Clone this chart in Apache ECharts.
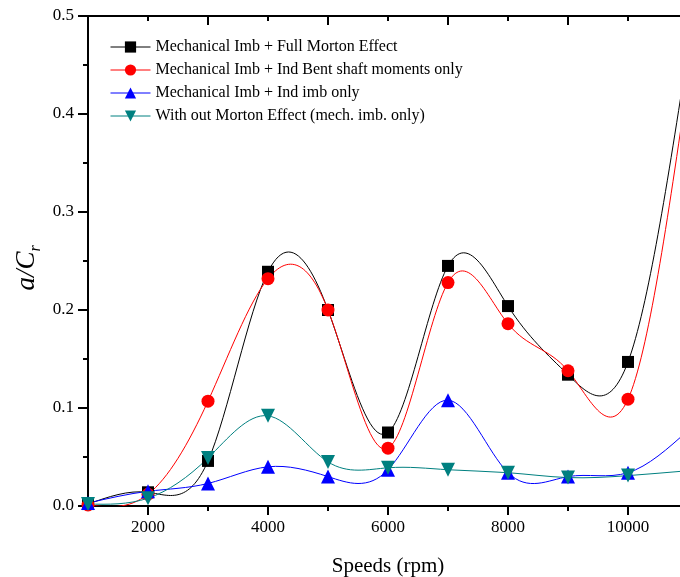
<!DOCTYPE html>
<html>
<head>
<meta charset="utf-8">
<script src="https://cdn.jsdelivr.net/npm/echarts@6/dist/echarts.min.js"></script>
<style>
html,body{margin:0;padding:0;background:#fff;}
#chart{width:680px;height:577px;}
</style>
</head>
<body>
<div id="chart"></div>
<script>
var speeds = [1000, 2000, 3000, 4000, 5000, 6000, 7000, 8000, 9000, 10000, 11000];
var fullMorton = [0.002, 0.014, 0.046, 0.239, 0.200, 0.075, 0.245, 0.204, 0.134, 0.147, 0.465];
var bentShaft  = [0.001, 0.012, 0.107, 0.232, 0.200, 0.059, 0.228, 0.186, 0.138, 0.109, 0.435];
var indImb     = [0.003, 0.015, 0.023, 0.040, 0.030, 0.037, 0.108, 0.034, 0.030, 0.034, 0.077];
var noMorton   = [0.002, 0.008, 0.049, 0.092, 0.045, 0.039, 0.037, 0.034, 0.029, 0.031, 0.036];
var seriesNames = [
  'Mechanical Imb + Full Morton Effect',
  'Mechanical Imb + Ind Bent shaft moments only',
  'Mechanical Imb + Ind imb only',
  'With out Morton Effect (mech. imb. only)'
];
var bottomMajor = [2000, 4000, 6000, 8000, 10000];
var bottomMinor = [1000, 3000, 5000, 7000, 9000, 11000];

var FONT = "'Liberation Serif', 'Times New Roman', serif";
function pairs(ys){ return speeds.map(function(x,i){ return [x, ys[i]]; }); }

// natural cubic spline slopes (the "spline" connection style of the original plot)
function splineSlopes(xs, ys){
  var n = xs.length, h = [], i;
  for (i = 0; i < n - 1; i++) h.push(xs[i+1] - xs[i]);
  var a = [], b = [], c = [], d = [];
  for (i = 0; i < n; i++){
    if (i === 0){ a.push(0); b.push(2/h[0]); c.push(1/h[0]); d.push(3*(ys[1]-ys[0])/(h[0]*h[0])); }
    else if (i === n-1){ a.push(1/h[n-2]); b.push(2/h[n-2]); c.push(0); d.push(3*(ys[n-1]-ys[n-2])/(h[n-2]*h[n-2])); }
    else {
      a.push(1/h[i-1]); b.push(2/h[i-1] + 2/h[i]); c.push(1/h[i]);
      d.push(3*((ys[i]-ys[i-1])/(h[i-1]*h[i-1]) + (ys[i+1]-ys[i])/(h[i]*h[i])));
    }
  }
  for (i = 1; i < n; i++){
    var w = a[i] / b[i-1];
    b[i] -= w * c[i-1];
    d[i] -= w * d[i-1];
  }
  var m = new Array(n);
  m[n-1] = d[n-1] / b[n-1];
  for (i = n - 2; i >= 0; i--) m[i] = (d[i] - c[i] * m[i+1]) / b[i];
  return m;
}

var chart = echarts.init(document.getElementById('chart'), null, {renderer:'canvas'});

function curve(name, ys, color){
  var m = splineSlopes(speeds, ys);
  return {
    name: name + ' (spline)', type: 'custom', clip: true, z: 2,
    data: pairs(ys),
    silent: true,
    renderItem: function(params, api){
      var i = params.dataIndex;
      if (i >= speeds.length - 1) return null;
      var x0 = speeds[i], x1 = speeds[i+1], h = x1 - x0;
      var p0 = api.coord([x0, ys[i]]);
      var p1 = api.coord([x1, ys[i+1]]);
      var c0 = api.coord([x0 + h/3, ys[i] + m[i]*h/3]);
      var c1 = api.coord([x1 - h/3, ys[i+1] - m[i+1]*h/3]);
      return {
        type: 'bezierCurve',
        shape: {x1: p0[0], y1: p0[1], x2: p1[0], y2: p1[1], cpx1: c0[0], cpy1: c0[1], cpx2: c1[0], cpy2: c1[1]},
        style: {stroke: color, fill: 'none', lineWidth: 1}
      };
    }
  };
}
function marks(name, ys, color, symbol, size){
  return {
    name: name, type: 'line', data: pairs(ys), z: 3,
    symbol: symbol, symbolSize: size, showAllSymbol: true,
    lineStyle: {color: color, width: 1, opacity: 0},
    itemStyle: {color: color},
    emphasis: {disabled: true}
  };
}
var invTri = 'path://M0,0 L10,0 L5,9 Z';
var option = {
  animation: false,
  backgroundColor: '#fff',
  grid: {left: 88, top: 16, width: 600, bottom: 71, containLabel: false, outerBoundsMode: 'none'},
  legend: {
    orient: 'vertical', left: 110, top: 39, padding: 0,
    itemWidth: 40, itemHeight: 14, itemGap: 7,
    lineStyle: {width: 1, opacity: 1},
    textStyle: {fontFamily: FONT, fontSize: 16, color: '#000'},
    data: seriesNames
  },
  xAxis: [
    {
      type: 'value', position: 'bottom', min: 1000, max: 11000,
      name: 'Speeds (rpm)', nameLocation: 'middle', nameGap: 50,
      nameTextStyle: {fontFamily: FONT, fontSize: 21, color: '#000'},
      axisLine: {show: true, onZero: false, lineStyle: {color: '#000', width: 2}},
      axisTick: {show: true, inside: false, length: 9, customValues: bottomMajor, lineStyle: {color: '#000', width: 2}},
      axisLabel: {customValues: bottomMajor, fontFamily: FONT, fontSize: 17, color: '#000', margin: 13,
        formatter: function(v){ return String(v); }},
      splitLine: {show: false}
    },
    {
      type: 'value', position: 'bottom', min: 1000, max: 11000,
      axisLine: {show: false},
      axisTick: {show: true, inside: false, length: 5, customValues: bottomMinor, lineStyle: {color: '#000', width: 2}},
      axisLabel: {show: false},
      splitLine: {show: false}
    },
    {
      type: 'value', position: 'top', min: 1000, max: 11000,
      axisLine: {show: true, onZero: false, lineStyle: {color: '#000', width: 2}},
      axisTick: {show: true, inside: true, length: 9, customValues: bottomMinor, lineStyle: {color: '#000', width: 2}},
      axisLabel: {show: false},
      splitLine: {show: false}
    },
    {
      type: 'value', position: 'top', min: 1000, max: 11000,
      axisLine: {show: false},
      axisTick: {show: true, inside: true, length: 5, customValues: bottomMajor, lineStyle: {color: '#000', width: 2}},
      axisLabel: {show: false},
      splitLine: {show: false}
    }
  ],
  yAxis: {
    type: 'value', min: 0, max: 0.5, interval: 0.1,
    axisLine: {show: true, onZero: false, lineStyle: {color: '#000', width: 2}},
    axisTick: {show: true, inside: false, length: 10, lineStyle: {color: '#000', width: 2}},
    minorTick: {show: true, splitNumber: 2, length: 5, lineStyle: {color: '#000', width: 2}},
    axisLabel: {fontFamily: FONT, fontSize: 17, color: '#000', margin: 14,
      formatter: function(v){ return v.toFixed(1); }},
    splitLine: {show: false}
  },
  graphic: [{
    type: 'text', x: 30, y: 268, rotation: Math.PI/2,
    style: {
      text: '{m|a/C}{s|r}', textAlign: 'center', textVerticalAlign: 'middle',
      rich: {
        m: {fontFamily: FONT, fontStyle: 'italic', fontSize: 27, lineHeight: 27, padding: [0,0,7,0], fill: '#000'},
        s: {fontFamily: FONT, fontStyle: 'italic', fontSize: 16, lineHeight: 16, verticalAlign: 'bottom', fill: '#000'}
      }
    }
  }],
  series: [
    curve(seriesNames[0], fullMorton, '#000000'),
    curve(seriesNames[1], bentShaft, '#ff0000'),
    curve(seriesNames[2], indImb, '#0000ff'),
    curve(seriesNames[3], noMorton, '#008080'),
    marks(seriesNames[0], fullMorton, '#000000', 'rect', 12),
    marks(seriesNames[1], bentShaft, '#ff0000', 'circle', 13),
    marks(seriesNames[2], indImb, '#0000ff', 'triangle', 14),
    marks(seriesNames[3], noMorton, '#008080', invTri, 14)
  ]
};
chart.setOption(option);
</script>
</body>
</html>
